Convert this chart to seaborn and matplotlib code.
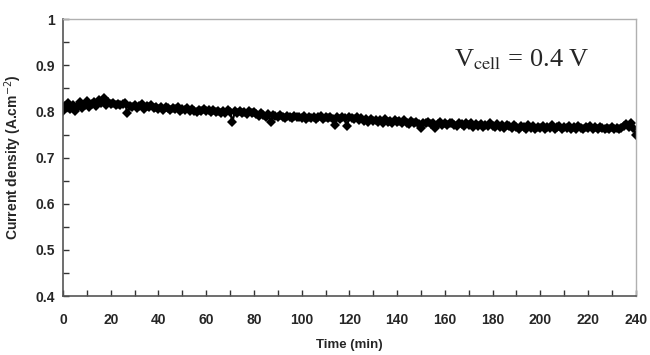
import numpy as np
import pandas as pd
import matplotlib
matplotlib.use("Agg")
import matplotlib.pyplot as plt
import seaborn as sns

# time in minutes, one reading per minute
time_min = list(range(0, 241))

# current density (A/cm2)
current = [
    0.800, 0.812, 0.818, 0.806, 0.815, 0.802, 0.810, 0.820, 0.808, 0.814,
    0.822, 0.809, 0.816, 0.820, 0.812, 0.824, 0.818, 0.829, 0.814, 0.820,
    0.816, 0.818, 0.815, 0.817, 0.814, 0.816, 0.818, 0.796, 0.812, 0.810,
    0.814, 0.808, 0.812, 0.816, 0.806, 0.811, 0.809, 0.813, 0.807, 0.810,
    0.806, 0.809, 0.804, 0.810, 0.807, 0.803, 0.808, 0.805, 0.810, 0.802,
    0.806, 0.803, 0.808, 0.800, 0.805, 0.802, 0.798, 0.804, 0.801, 0.806,
    0.800, 0.803, 0.798, 0.804, 0.799, 0.802, 0.797, 0.801, 0.796, 0.803,
    0.798, 0.778, 0.800, 0.796, 0.802, 0.797, 0.799, 0.795, 0.801, 0.796,
    0.798, 0.794, 0.790, 0.797, 0.792, 0.788, 0.795, 0.777, 0.793, 0.790,
    0.788, 0.792, 0.789, 0.786, 0.791, 0.788, 0.785, 0.790, 0.787, 0.789,
    0.786, 0.790, 0.784, 0.788, 0.785, 0.789, 0.783, 0.787, 0.790, 0.784,
    0.788, 0.785, 0.789, 0.783, 0.771, 0.787, 0.784, 0.788, 0.785, 0.768,
    0.789, 0.786, 0.784, 0.788, 0.782, 0.786, 0.780, 0.784, 0.778, 0.783,
    0.779, 0.782, 0.777, 0.781, 0.776, 0.783, 0.778, 0.780, 0.775, 0.781,
    0.777, 0.780, 0.774, 0.782, 0.776, 0.773, 0.779, 0.775, 0.778, 0.772,
    0.764, 0.776, 0.774, 0.778, 0.772, 0.775, 0.765, 0.773, 0.777, 0.771,
    0.775, 0.770, 0.774, 0.776, 0.771, 0.769, 0.775, 0.772, 0.768, 0.774,
    0.770, 0.776, 0.767, 0.773, 0.769, 0.772, 0.766, 0.771, 0.768, 0.774,
    0.769, 0.766, 0.772, 0.767, 0.771, 0.765, 0.770, 0.768, 0.764, 0.771,
    0.767, 0.762, 0.769, 0.766, 0.763, 0.770, 0.765, 0.768, 0.762, 0.767,
    0.765, 0.769, 0.763, 0.767, 0.764, 0.770, 0.762, 0.766, 0.768, 0.763,
    0.767, 0.764, 0.769, 0.762, 0.766, 0.763, 0.768, 0.765, 0.761, 0.767,
    0.764, 0.768, 0.762, 0.766, 0.763, 0.767, 0.764, 0.761, 0.765, 0.763,
    0.766, 0.762, 0.764, 0.761, 0.765, 0.768, 0.772, 0.766, 0.775, 0.765,
    0.749,
]

x_ticks = [0, 20, 40, 60, 80, 100, 120, 140, 160, 180, 200, 220, 240]
y_ticks = [0.4, 0.5, 0.6, 0.7, 0.8, 0.9, 1.0]
y_tick_labels = ["0.4", "0.5", "0.6", "0.7", "0.8", "0.9", "1"]

df = pd.DataFrame({"t": time_min, "j": current})

sns.set_style("white")
plt.rcParams["font.family"] = ["Liberation Sans", "DejaVu Sans"]

fig = plt.figure(figsize=(6.5, 3.55), dpi=100)
ax = fig.add_axes([0.097, 0.166, 0.881, 0.780])

sns.lineplot(data=df, x="t", y="j", ax=ax, color="black", linewidth=1.6,
             marker="D", markersize=5.5, markeredgewidth=0)

ax.set_xlim(0, 240)
ax.set_ylim(0.4, 1.0)
ax.set_xticks(x_ticks)
ax.set_xticks(np.arange(10, 240, 20), minor=True)
ax.set_yticks(y_ticks)
ax.set_yticks(np.arange(0.45, 1.0, 0.1), minor=True)
ax.set_yticklabels(y_tick_labels)

for lbl in ax.get_xticklabels() + ax.get_yticklabels():
    lbl.set_fontweight("bold")
    lbl.set_fontsize(10)

ax.tick_params(axis="both", which="both", direction="in", color="#333333",
               width=1.0, bottom=True, left=True, length=4)
ax.tick_params(axis="x", which="major", pad=12)
ax.tick_params(axis="y", which="major", pad=6)

for s in ["left", "bottom"]:
    ax.spines[s].set_color("#555555")
    ax.spines[s].set_linewidth(1.2)
for s in ["top", "right"]:
    ax.spines[s].set_color("#b0b0b0")
    ax.spines[s].set_linewidth(1.0)

ax.set_xlabel("Time (min)", fontsize=9.5, fontweight="bold", labelpad=9)
ax.set_ylabel("Current density (A.cm$^{-2}$)", fontsize=10, fontweight="bold",
              math_fontfamily="dejavusans", labelpad=8)

ax.text(164, 0.898, r"V$_{\rm cell}$ = 0.4 V", fontsize=19,
        family="Liberation Serif", math_fontfamily="stix", va="baseline")

fig.savefig("out.png", dpi=100)
